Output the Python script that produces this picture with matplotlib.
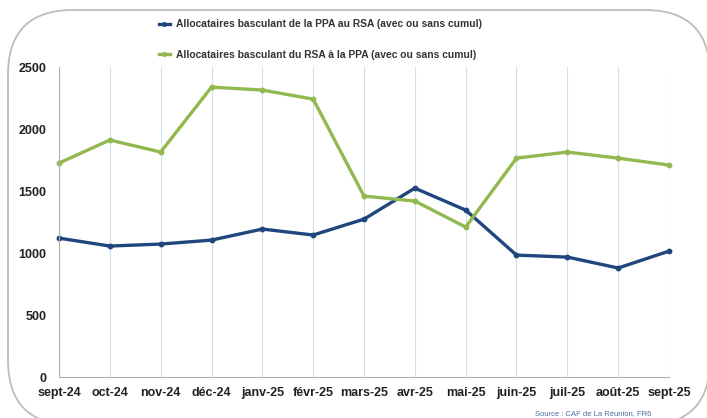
import matplotlib.pyplot as plt
from matplotlib.patches import FancyBboxPatch
from matplotlib import font_manager

months = ['sept-24', 'oct-24', 'nov-24', 'déc-24', 'janv-25', 'févr-25', 'mars-25',
          'avr-25', 'mai-25', 'juin-25', 'juil-25', 'août-25', 'sept-25']
ppa_to_rsa = [1120, 1056, 1072, 1104, 1193, 1145, 1273, 1523, 1346, 983, 967, 879, 1015]
rsa_to_ppa = [1725, 1911, 1814, 2338, 2314, 2241, 1459, 1419, 1209, 1765, 1814, 1765, 1709]

names = {f.name for f in font_manager.fontManager.ttflist}
font = 'Liberation Sans Narrow' if 'Liberation Sans Narrow' in names else 'Liberation Sans'
plt.rcParams['font.family'] = [font, 'DejaVu Sans']

W, H = 707, 418
fig = plt.figure(figsize=(W / 100, H / 100), dpi=100)

# background frame in pixel coords (runs off the right and bottom edges)
bg = fig.add_axes([0, 0, 1, 1])
bg.set_xlim(0, W)
bg.set_ylim(H, 0)
bg.axis('off')
bg.add_patch(FancyBboxPatch((8, 10), 702, 415, boxstyle='round,pad=0,rounding_size=65',
                            fc='white', ec='#bdbdbd', lw=1.3, clip_on=False))

blue = '#1f477e'
green = '#92b850'

ax = fig.add_axes([59 / W, 1 - 377 / H, (669 - 59) / W, (377 - 67) / H])
ax.patch.set_alpha(0)
x = range(len(months))
ax.plot(x, ppa_to_rsa, color=blue, lw=2.4, marker='o', ms=3.2, clip_on=False,
        label='Allocataires basculant de la PPA au RSA (avec ou sans cumul)')
ax.plot(x, rsa_to_ppa, color=green, lw=2.4, marker='o', ms=3.2, clip_on=False,
        label='Allocataires basculant du RSA à la PPA (avec ou sans cumul)')

ax.set_xlim(0, len(months) - 1)
ax.set_ylim(0, 2500)
ax.set_yticks([0, 500, 1000, 1500, 2000, 2500])
ax.set_xticks(list(x))
ax.set_xticklabels(months)
ax.grid(axis='x', color='#d3deec', lw=0.8)
ax.set_axisbelow(True)
for s in ['top', 'right']:
    ax.spines[s].set_visible(False)
for s in ['left', 'bottom']:
    ax.spines[s].set_color('#b0b0b0')
ax.tick_params(length=0, labelsize=9, colors='#222222')
ax.tick_params(axis='x', pad=7)
ax.tick_params(axis='y', pad=9)
for lab in ax.get_xticklabels() + ax.get_yticklabels():
    lab.set_fontweight('bold')

leg = fig.legend(loc='upper left', bbox_to_anchor=(150 / W, 1 - 10 / H), frameon=False,
                 fontsize=7.4, handlelength=1.0, labelspacing=2.0, handletextpad=0.6,
                 markerscale=0.8)
for t in leg.get_texts():
    t.set_fontweight('bold')
    t.set_color('#333333')

fig.text(593 / W, 1 - 417 / H, 'Source : CAF de La Réunion, FR6', fontsize=5.5,
         color='#4a6fa0', ha='center', va='bottom')

fig.savefig('out.png', dpi=100)
